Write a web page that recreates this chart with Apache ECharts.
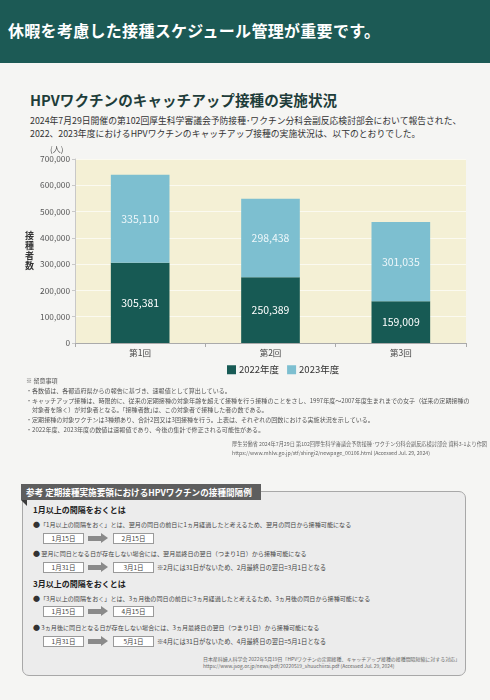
<!DOCTYPE html>
<html>
<head>
<meta charset="utf-8">
<script src="https://cdn.jsdelivr.net/npm/echarts@6/dist/echarts.min.js"></script>
<style>
  html, body { margin: 0; padding: 0; }
  body {
    width: 490px; height: 700px; position: relative; overflow: hidden;
    background: #f5f5f3; color: #333;
    font-family: "Noto Sans CJK JP", "Noto Sans", sans-serif;
  }
  .abs { position: absolute; white-space: nowrap; }
  #header { left: 0; top: 0; width: 490px; height: 63px; background: #1c5a55; }
  #header span { position: absolute; left: 8px; top: 18px; font-size: 16px; font-weight: bold; color: #fff; letter-spacing: 0.3px; }
  #title { left: 30px; top: 89px; font-size: 14.6px; font-weight: bold; color: #1e3d3a; }
  #lead { left: 30px; top: 114px; font-size: 8.8px; line-height: 13px; color: #333; }
  #chart { position: absolute; left: 0; top: 140px; width: 490px; height: 240px; }
  .note { left: 26px; font-size: 6.05px; line-height: 8px; color: #555; }
  #cite1 { left: 232px; top: 439px; font-size: 5.2px; line-height: 9px; color: #666; }
  #box { left: 22px; top: 491px; width: 442px; height: 183px; background: #ececec; border: 1px solid #a8a8a8; border-radius: 7px; }
  #tab { left: 21px; top: 484px; width: 240px; height: 16px; background: #5e5e5e; color: #fff; font-size: 8.6px; font-weight: bold; line-height: 16px; padding-left: 5px; box-sizing: border-box; }
  #fold { left: 21px; top: 500px; width: 0; height: 0; border-top: 6px solid #3c3c3c; border-left: 6px solid transparent; }
  .sub { left: 33px; font-size: 8px; line-height: 10px; font-weight: bold; color: #222; }
  .bul { left: 33px; font-size: 6.1px; line-height: 10px; color: #444; }
  .bul b { font-size: 7px; color: #333; }
  .date { width: 39px; height: 9px; border: 1px solid #9a9a9a; background: #fff; font-size: 6.5px; line-height: 9px; text-align: center; color: #444; }
  .arrow { left: 88px; width: 13px; height: 5px; background: #8a8a8a; }
  .arrow:after { content: ""; position: absolute; left: 13px; top: -3px; border-left: 7px solid #8a8a8a; border-top: 5.5px solid transparent; border-bottom: 5.5px solid transparent; }
  .memo { left: 157px; font-size: 6.3px; line-height: 10px; color: #444; }
  #cite2 { left: 203px; top: 656px; font-size: 4.95px; line-height: 6.5px; color: #666; }
</style>
</head>
<body>
<div id="header" class="abs"><span>休暇を考慮した接種スケジュール管理が重要です。</span></div>
<div id="title" class="abs">HPVワクチンのキャッチアップ接種の実施状況</div>
<div id="lead" class="abs">2024年7月29日開催の第102回厚生科学審議会予防接種･ワクチン分科会副反応検討部会において報告された、<br>2022、2023年度におけるHPVワクチンのキャッチアップ接種の実施状況は、以下のとおりでした。</div>
<div id="chart"></div>

<div class="abs note" style="top:377px;">※ 留意事項</div>
<div class="abs note" style="top:387px;">・各数値は、各都道府県からの報告に基づき、速報値として算出している。</div>
<div class="abs note" style="top:397px;">・キャッチアップ接種は、時限的に、従来の定期接種の対象年齢を超えて接種を行う接種のことをさし、1997年度～2007年度生まれまでの女子（従来の定期接種の</div>
<div class="abs note" style="top:406px;left:32px;">対象者を除く）が対象者となる。｢接種者数｣は、この対象者で接種した者の数である。</div>
<div class="abs note" style="top:416px;">・定期接種の対象ワクチンは3種類あり、合計2回又は3回接種を行う。上表は、それぞれの回数における実施状況を示している。</div>
<div class="abs note" style="top:426px;">・2022年度、2023年度の数値は速報値であり、今後の集計で修正される可能性がある。</div>
<div id="cite1" class="abs">厚生労働省 2024年7月29日 第102回厚生科学審議会予防接種･ワクチン分科会副反応検討部会 資料3-1より作図<br>https://www.mhlw.go.jp/stf/shingi2/newpage_00106.html (Accessed Jul. 29, 2024)</div>

<div id="box" class="abs"></div>
<div id="tab" class="abs">参考 定期接種実施要領におけるHPVワクチンの接種間隔例</div>
<div id="fold" class="abs"></div>

<div class="abs sub" style="top:505px;">1月以上の間隔をおくとは</div>
<div class="abs bul" style="top:519px;"><b>●</b>「1月以上の間隔をおく」とは、翌月の同日の前日に1ヵ月経過したと考えるため、翌月の同日から接種可能になる</div>
<div class="abs date" style="left:43px;top:533px;">1月15日</div>
<div class="abs arrow" style="top:536px;"></div>
<div class="abs date" style="left:113px;top:533px;">2月15日</div>
<div class="abs bul" style="top:548px;"><b>●</b> 翌月に同日となる日が存在しない場合には、翌月最終日の翌日（つまり1日）から接種可能になる</div>
<div class="abs date" style="left:43px;top:562px;">1月31日</div>
<div class="abs arrow" style="top:565px;"></div>
<div class="abs date" style="left:113px;top:562px;">3月1日</div>
<div class="abs memo" style="top:563px;">※2月には31日がないため、2月最終日の翌日=3月1日となる</div>

<div class="abs sub" style="top:579px;">3月以上の間隔をおくとは</div>
<div class="abs bul" style="top:593px;"><b>●</b>「3月以上の間隔をおく」とは、3ヵ月後の同日の前日に3ヵ月経過したと考えるため、3ヵ月後の同日から接種可能になる</div>
<div class="abs date" style="left:43px;top:606px;">1月15日</div>
<div class="abs arrow" style="top:609px;"></div>
<div class="abs date" style="left:113px;top:606px;">4月15日</div>
<div class="abs bul" style="top:622px;"><b>●</b> 3ヵ月後に同日となる日が存在しない場合には、3ヵ月最終日の翌日（つまり1日）から接種可能になる</div>
<div class="abs date" style="left:43px;top:636px;">1月31日</div>
<div class="abs arrow" style="top:639px;"></div>
<div class="abs date" style="left:113px;top:636px;">5月1日</div>
<div class="abs memo" style="top:637px;">※4月には31日がないため、4月最終日の翌日=5月1日となる</div>
<div id="cite2" class="abs">日本産科婦人科学会 2022年5月19日「HPVワクチンの定期接種、キャッチアップ接種の接種間隔短縮に対する対応」<br>https://www.jsog.or.jp/news/pdf/20220519_shuuchiirai.pdf (Accessed Jul. 29, 2024)</div>

<script>
var categories = ['第1回', '第2回', '第3回'];
var fy2022 = [305381, 250389, 159009];
var fy2023 = [335110, 298438, 301035];
var seriesNames = ['2022年度', '2023年度'];

var chart = echarts.init(document.getElementById('chart'), null, { renderer: 'canvas' });

var option = {
  animation: false,
  textStyle: { fontFamily: 'Noto Sans CJK JP' },
  color: ['#175a54', '#7dbfd0'],
  grid: {
    left: 75, right: 24, top: 19, bottom: 37,
    show: true, backgroundColor: '#f4f0d5', borderWidth: 0
  },
  legend: {
    data: seriesNames,
    left: 222, top: 220,
    itemWidth: 9, itemHeight: 9, itemGap: 8,
    icon: 'rect',
    textStyle: { fontSize: 9.5, color: '#333', padding: [0, 0, 0, -2] }
  },
  graphic: [
    { type: 'text', left: 50, top: 5, style: { text: '(人)', fontSize: 8, fill: '#555', fontFamily: 'Noto Sans CJK JP' } }
  ],
  xAxis: {
    type: 'category',
    data: categories,
    axisLine: { lineStyle: { color: '#aaa' } },
    axisTick: { show: true, length: 4, lineStyle: { color: '#aaa' } },
    axisLabel: { color: '#444', fontSize: 8.5, margin: 6 }
  },
  yAxis: {
    type: 'value',
    min: 0, max: 700000, interval: 100000,
    name: '接\n種\n者\n数',
    nameLocation: 'middle',
    nameRotate: 0,
    nameGap: 41,
    nameTextStyle: { fontSize: 9, fontWeight: 'bold', color: '#333', lineHeight: 10 },
    axisLine: { show: true, lineStyle: { color: '#c8c8c8' } },
    axisTick: { show: true, length: 3, lineStyle: { color: '#c8c8c8' } },
    axisLabel: {
      color: '#555', fontSize: 8.3, margin: 5,
      formatter: function (v) { return v.toLocaleString('en-US'); }
    },
    splitLine: { lineStyle: { color: '#fbfaf0', width: 1 } }
  },
  series: [
    {
      name: seriesNames[0], type: 'bar', stack: 'total', barWidth: '45%',
      data: fy2022,
      label: { show: true, position: 'inside', color: '#fff', fontSize: 10.5,
        formatter: function (p) { return p.value.toLocaleString('en-US'); } }
    },
    {
      name: seriesNames[1], type: 'bar', stack: 'total', barWidth: '45%',
      data: fy2023,
      label: { show: true, position: 'inside', color: '#eef7fa', fontSize: 10.5,
        formatter: function (p) { return p.value.toLocaleString('en-US'); } }
    }
  ]
};

chart.setOption(option);
</script>
</body>
</html>
